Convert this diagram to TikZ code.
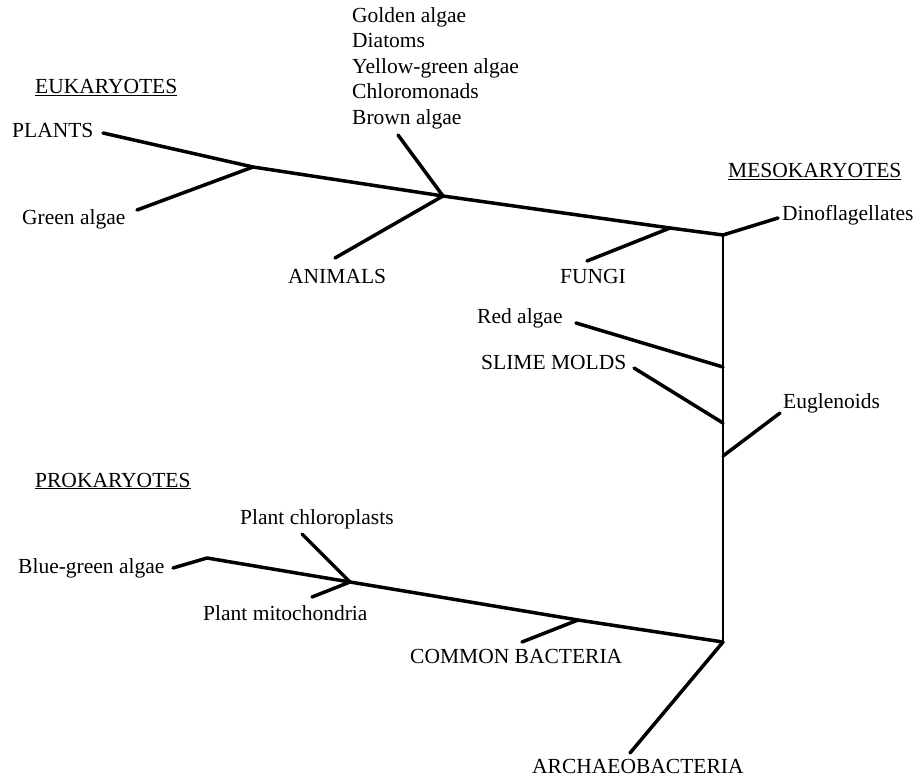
\documentclass[tikz,border=0pt]{standalone}
\usepackage{fontspec}
\setmainfont{Liberation Serif}
\usetikzlibrary{positioning}

\begin{document}
\begin{tikzpicture}[x=1pt, y=-1pt,
    branch/.style={line width=3.5pt, line cap=round, line join=round},
    trunk/.style={line width=2.5pt, line cap=round},
    taxon/.style={inner sep=0pt, anchor=base west, font=\fontsize{21.5}{25.5}\selectfont}]
    \useasboundingbox (0,0) rectangle (918,778);

    % group headings
    \node (eukaryotes) [taxon] at (35,94) {\underline{EUKARYOTES}};
    \node (mesokaryotes) [taxon] at (728,178) {\underline{MESOKARYOTES}};
    \node (prokaryotes) [taxon] at (35,487) {\underline{PROKARYOTES}};

    % eukaryote labels
    \node (plants) [taxon] at (12,138) {PLANTS};
    \node (green_algae) [taxon] at (22,225) {Green algae};
    \node (golden_group) [taxon, anchor=north west, align=left] at (352,7) {Golden algae\\Diatoms\\Yellow-green algae\\Chloromonads\\Brown algae};
    \node (animals) [taxon] at (288,283) {ANIMALS};
    \node (fungi) [taxon] at (560,283) {FUNGI};

    % mesokaryote labels
    \node (dinoflagellates) [taxon] at (782,221) {Dinoflagellates};
    \node (red_algae) [taxon] at (477,323) {Red algae};
    \node (slime_molds) [taxon] at (481,369) {SLIME MOLDS};
    \node (euglenoids) [taxon] at (783,408) {Euglenoids};

    % prokaryote labels
    \node (plant_chloroplasts) [taxon] at (240,524) {Plant chloroplasts};
    \node (blue_green_algae) [taxon] at (18,573) {Blue-green algae};
    \node (plant_mitochondria) [taxon] at (203,620) {Plant mitochondria};
    \node (common_bacteria) [taxon] at (410,663) {COMMON BACTERIA};
    \node (archaeobacteria) [taxon] at (532,773) {ARCHAEOBACTERIA};

    % forks
    \coordinate (plants_fork) at (253,167);
    \coordinate (brown_fork) at (443,196);
    \coordinate (fungi_fork) at (670,228);
    \coordinate (top_fork) at (723,235);
    \coordinate (red_fork) at (723,367);
    \coordinate (slime_fork) at (723,423);
    \coordinate (euglena_fork) at (723,456);
    \coordinate (bottom_fork) at (723,642);
    \coordinate (plastid_fork) at (350,582);
    \coordinate (bacteria_fork) at (578,620);
    \coordinate (blue_bend) at (207,558);

    % free ends
    \coordinate (plants_end) at (103,133);
    \coordinate (green_end) at (137,210);
    \coordinate (brown_end) at (398,135);
    \coordinate (animals_end) at (335,258);
    \coordinate (fungi_end) at (587,261);
    \coordinate (dino_end) at (778,218);
    \coordinate (red_end) at (576,323);
    \coordinate (slime_end) at (634,368);
    \coordinate (euglena_end) at (780,413);
    \coordinate (blue_end) at (173,568);
    \coordinate (chloro_end) at (302,534);
    \coordinate (mito_end) at (312,597);
    \coordinate (bacteria_end) at (522,642);
    \coordinate (archaeo_end) at (630,753);

    \draw[branch] (plants_end) -- (plants_fork) -- (brown_fork) -- (fungi_fork) -- (top_fork) -- (dino_end);
    \draw[branch] (green_end) -- (plants_fork);
    \draw[branch] (brown_end) -- (brown_fork) -- (animals_end);
    \draw[branch] (fungi_end) -- (fungi_fork);
    \draw[trunk] (top_fork) -- (bottom_fork);
    \draw[branch] (red_end) -- (red_fork);
    \draw[branch] (slime_end) -- (slime_fork);
    \draw[branch] (euglena_end) -- (euglena_fork);
    \draw[branch] (blue_end) -- (blue_bend) -- (plastid_fork) -- (bacteria_fork) -- (bottom_fork) -- (archaeo_end);
    \draw[branch] (chloro_end) -- (plastid_fork) -- (mito_end);
    \draw[branch] (bacteria_end) -- (bacteria_fork);

\end{tikzpicture}
\end{document}
